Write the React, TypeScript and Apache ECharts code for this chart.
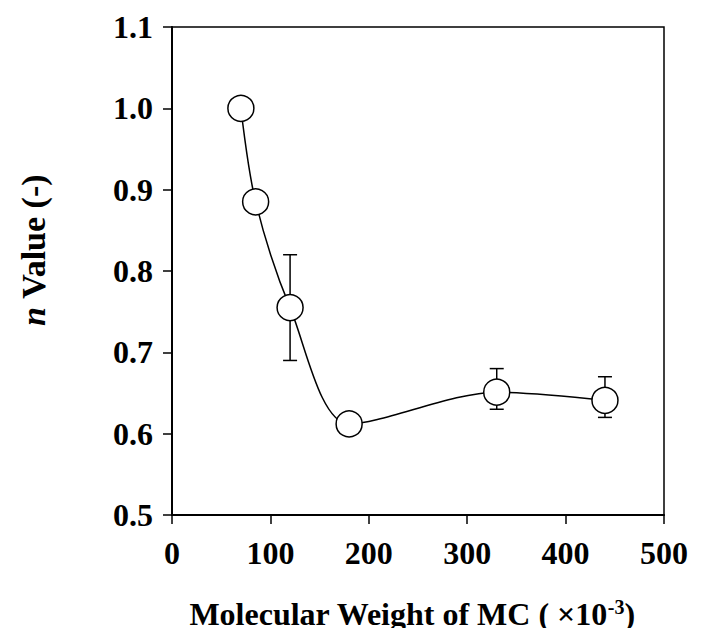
import React, { useEffect, useRef } from "react";
import * as echarts from "echarts";

const molWeight = [70, 85, 120, 180, 330, 440];
const nValue = [1.0, 0.885, 0.755, 0.612, 0.651, 0.641];

const errX = [120, 330, 440];
const errLow = [0.69, 0.63, 0.62];
const errHigh = [0.82, 0.68, 0.67];

const xTicks = [0, 100, 200, 300, 400, 500];
const yTicks = [0.5, 0.6, 0.7, 0.8, 0.9, 1.0, 1.1];

const FONT = "'Liberation Serif', 'Times New Roman', serif";

export default function App() {
  const ref = useRef<HTMLDivElement>(null);

  useEffect(() => {
    if (!ref.current) return;
    const chart = echarts.init(ref.current, undefined, { renderer: "svg" });

    const lineData = molWeight.map((x, i) => [x, nValue[i]]);
    const errData = errX.map((x, i) => [x, errLow[i], errHigh[i]]);

    chart.setOption({
      animation: false,
      backgroundColor: "#fff",
      grid: {
        left: 172,
        right: 40,
        top: 27,
        bottom: 121,
        show: true,
        borderColor: "#000",
        borderWidth: 1.5,
      },
      xAxis: {
        type: "value",
        min: xTicks[0],
        max: xTicks[xTicks.length - 1],
        interval: 100,
        axisLine: { show: true, lineStyle: { color: "#000", width: 2 } },
        axisTick: { show: true, length: 9, lineStyle: { color: "#000", width: 1.5 } },
        splitLine: { show: false },
        axisLabel: {
          margin: 22,
          color: "#000",
          fontFamily: FONT,
          fontWeight: "bold",
          fontSize: 32,
        },
      },
      yAxis: {
        type: "value",
        min: yTicks[0],
        max: yTicks[yTicks.length - 1],
        interval: 0.1,
        axisLine: { show: true, lineStyle: { color: "#000", width: 2 } },
        axisTick: { show: true, length: 9, lineStyle: { color: "#000", width: 1.5 } },
        splitLine: { show: false },
        axisLabel: {
          margin: 19,
          color: "#000",
          fontFamily: FONT,
          fontWeight: "bold",
          fontSize: 32,
          formatter: (v: number) => v.toFixed(1),
        },
      },
      graphic: [
        {
          type: "text",
          x: 33,
          y: 250,
          rotation: Math.PI / 2,
          style: {
            text: "{i|n} Value (-)",
            textAlign: "center",
            textVerticalAlign: "middle",
            fill: "#000",
            font: `bold 34px ${FONT}`,
            rich: {
              i: {
                fontFamily: FONT,
                fontWeight: "bold",
                fontStyle: "italic",
                fontSize: 34,
                fill: "#000",
              },
            },
          },
        },
        {
          type: "text",
          x: 412,
          y: 614,
          style: {
            text: "{m|Molecular Weight of MC ( ×10}{s|-3}{m|)}",
            textAlign: "center",
            textVerticalAlign: "middle",
            fill: "#000",
            font: `bold 32px ${FONT}`,
            rich: {
              m: {
                fontFamily: FONT,
                fontWeight: "bold",
                fontSize: 32,
                lineHeight: 34,
                fill: "#000",
                verticalAlign: "middle",
              },
              s: {
                fontFamily: FONT,
                fontWeight: "bold",
                fontSize: 20,
                lineHeight: 20,
                fill: "#000",
                verticalAlign: "top",
              },
            },
          },
        },
      ],
      series: [
        {
          type: "custom",
          z: 1,
          renderItem: (params: any, api: any) => {
            const x = api.value(0);
            const lo = api.coord([x, api.value(1)]);
            const hi = api.coord([x, api.value(2)]);
            const hw = 7;
            const st = { stroke: "#000", lineWidth: 1.5 };
            return {
              type: "group",
              children: [
                { type: "line", shape: { x1: lo[0], y1: lo[1], x2: hi[0], y2: hi[1] }, style: st },
                { type: "line", shape: { x1: lo[0] - hw, y1: lo[1], x2: lo[0] + hw, y2: lo[1] }, style: st },
                { type: "line", shape: { x1: hi[0] - hw, y1: hi[1], x2: hi[0] + hw, y2: hi[1] }, style: st },
              ],
            };
          },
          data: errData,
        },
        {
          type: "line",
          z: 2,
          smooth: 0.3,
          data: lineData,
          symbol: "circle",
          symbolSize: 26,
          showSymbol: true,
          lineStyle: { color: "#000", width: 1.5 },
          itemStyle: { color: "#fff", borderColor: "#000", borderWidth: 1.5 },
        },
      ],
    });

    return () => chart.dispose();
  }, []);

  return <div ref={ref} style={{ width: 704, height: 636, margin: -8 }} />;
}
